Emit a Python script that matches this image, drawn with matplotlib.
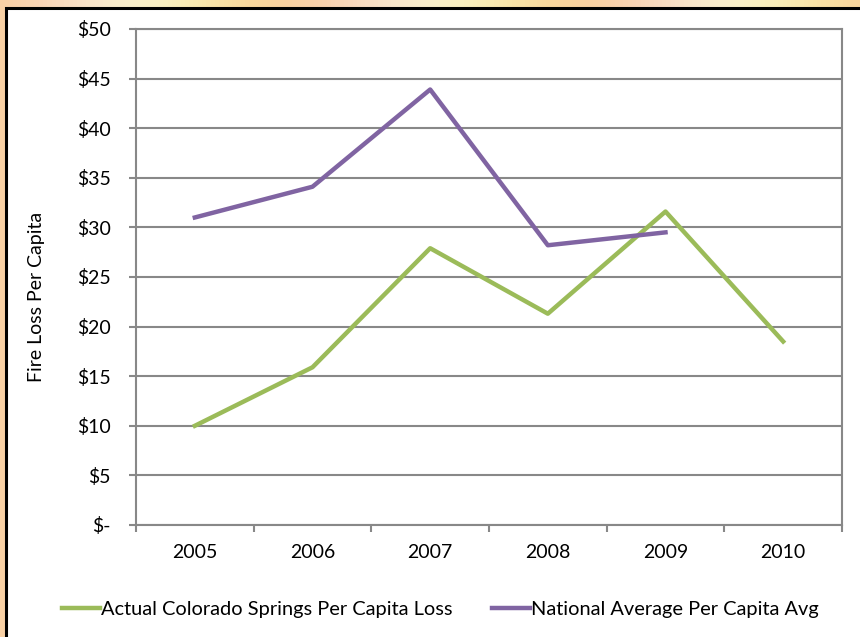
import numpy as np
import matplotlib
matplotlib.use('Agg')
import matplotlib.pyplot as plt
from matplotlib.patches import Rectangle
from matplotlib.ticker import FixedLocator, NullFormatter

years = ['2005', '2006', '2007', '2008', '2009', '2010']
colorado_loss = [10.0, 15.9, 27.9, 21.3, 31.6, 18.5]
national_avg = [31.0, 34.1, 43.9, 28.2, 29.5]

y_ticks = [0, 5, 10, 15, 20, 25, 30, 35, 40, 45, 50]
y_labels = ['$-'] + ['$%d' % v for v in y_ticks[1:]]

plt.rcParams['font.family'] = ['Lato', 'DejaVu Sans']
fs = 14

fig = plt.figure(figsize=(8.6, 6.37), dpi=100)

# warm gradient backdrop behind the white panel
bg = fig.add_axes([0, 0, 1, 1], zorder=-10)
xs = np.linspace(0, 1, 200)
g = 0.82 + 0.12 * np.sin(xs * 9.0) ** 2
b = 0.62 + 0.18 * np.sin(xs * 9.0 + 0.4) ** 2
grad = np.dstack([np.full_like(xs, 0.98), g, b])[0][None, :, :]
bg.imshow(np.repeat(grad, 2, axis=0), aspect='auto', extent=[0, 1, 0, 1])
bg.set_axis_off()

# white panel with black frame
fig.patches.append(Rectangle((6 / 860, -0.01), 1.0, 1 - 8 / 637 + 0.01,
                             transform=fig.transFigure, facecolor='white',
                             edgecolor='black', linewidth=2.2, zorder=-5))

ax = fig.add_axes([136 / 860, 1 - 525 / 637, (842 - 136) / 860, (525 - 29) / 637])
ax.set_facecolor('white')
x = np.arange(len(years))
ax.plot(x, colorado_loss, color='#9BBB59', linewidth=3.2,
        label='Actual Colorado Springs Per Capita Loss', zorder=3)
ax.plot(x[:len(national_avg)], national_avg, color='#8064A2', linewidth=3.2,
        label='National Average Per Capita Avg', zorder=3)

ax.set_xlim(-0.5, len(years) - 0.5)
ax.set_ylim(0, 50)
ax.set_yticks(y_ticks)
ax.set_yticklabels(y_labels)
ax.set_xticks(x)
ax.set_xticklabels(years)
ax.xaxis.set_minor_locator(FixedLocator(np.arange(-0.5, len(years), 1.0)))
ax.xaxis.set_minor_formatter(NullFormatter())
ax.tick_params(axis='x', which='major', length=0, pad=14, labelsize=fs)
ax.tick_params(axis='x', which='minor', length=5, width=1.5, color='#888888')
ax.tick_params(axis='y', length=5, width=1.5, color='#888888', pad=13, labelsize=fs)
ax.grid(axis='y', color='#888888', linewidth=1.5)
ax.set_axisbelow(True)
for s in ax.spines.values():
    s.set_color('#888888')
    s.set_linewidth(1.5)

fig.text(37 / 860, 1 - 297 / 637, 'Fire Loss Per Capita', rotation=90,
         ha='center', va='center', fontsize=fs)

fig.legend(loc='center', bbox_to_anchor=(0.512, 1 - 609 / 637), ncol=2,
           frameon=False, fontsize=14.4, handlelength=1.9, handletextpad=0.05,
           columnspacing=2.0)

fig.savefig('out.png', dpi=100)
